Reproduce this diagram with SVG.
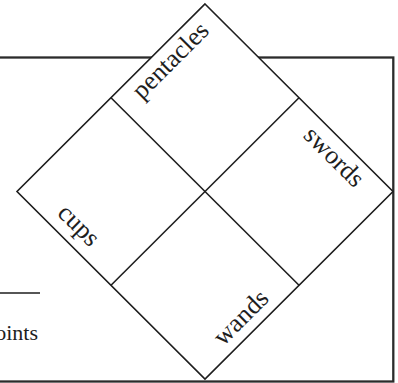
<svg xmlns="http://www.w3.org/2000/svg" width="398" height="383" viewBox="0 0 398 383">
<style>
.frame{fill:none;stroke:#2b2b2b;stroke-width:2.3}
.dia{fill:#fff;stroke:#1e1e1e;stroke-width:1.6}
.ln{fill:none;stroke:#1e1e1e;stroke-width:1.6}
.lbl{font-family:"Liberation Serif",serif;font-size:26px;fill:#1e1e1e;text-anchor:middle}
.pt{font-family:"Liberation Serif",serif;font-size:22px;fill:#1e1e1e;text-anchor:end}
</style>
<rect x="0" y="0" width="398" height="383" fill="#fff"/>
<g id="frame">
<rect class="frame" x="-20" y="57.5" width="413.3" height="324"/>
<line class="ln" x1="-5" y1="293" x2="40" y2="293"/>
<text class="pt" x="38" y="340">points</text>
</g>
<g id="diamond">
<path class="dia" d="M205,4 L393,191.5 L205,379 L17,191.5 Z"/>
</g>
<g id="connectors">
<line class="ln" x1="111" y1="97.75" x2="299" y2="285.25"/>
<line class="ln" x1="299" y1="97.75" x2="111" y2="285.25"/>
</g>
<g id="pentacles"><text class="lbl" transform="translate(172,62) rotate(-45)" x="0" y="6">pentacles</text></g>
<g id="swords"><text class="lbl" transform="translate(332.5,158.3) rotate(45)" x="0" y="6">swords</text></g>
<g id="cups"><text class="lbl" transform="translate(76.7,227.5) rotate(45)" x="0" y="5">cups</text></g>
<g id="wands"><text class="lbl" transform="translate(242.5,319) rotate(-45)" x="0" y="6">wands</text></g>
</svg>
